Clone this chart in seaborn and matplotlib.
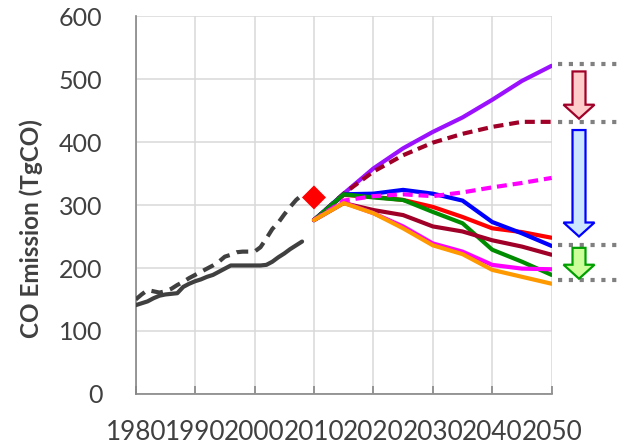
import matplotlib
matplotlib.use("Agg")
import matplotlib.pyplot as plt
import matplotlib.transforms as mtransforms
from matplotlib.patches import FancyArrow
import seaborn as sns

# ---- historical emissions (TgCO), 1980-2008 ----
hist_years = list(range(1980, 2009))
hist_inventory = [141, 144, 147, 152, 156, 158, 159, 160, 170, 175, 179, 182, 186,
                  189, 194, 199, 204, 204, 204, 204, 204, 204, 205, 210, 217, 223,
                  230, 236, 242]
hist_alt = [150, 158, 165, 163, 161, 163, 167, 173, 178, 184, 189, 194, 199, 204,
            210, 218, 221, 225, 226, 226, 226, 233, 247, 262, 272, 285, 297, 308, 316]

# ---- 2010 reference point ----
ref_year = [2010]
ref_value = [312]

# ---- scenario projections, 2010-2050 ----
proj_years = [2010, 2015, 2020, 2025, 2030, 2035, 2040, 2045, 2050]
purple = [276, 318, 358, 390, 416, 439, 467, 497, 521]
darkred_dashed = [276, 318, 353, 379, 399, 413, 424, 432, 432]
magenta_dashed = [276, 307, 314, 317, 314, 320, 328, 335, 343]
red = [276, 316, 313, 308, 297, 281, 263, 257, 248]
blue = [276, 317, 318, 324, 318, 307, 273, 255, 235]
green = [276, 317, 312, 308, 289, 271, 229, 210, 189]
darkred = [276, 303, 292, 284, 266, 258, 244, 234, 221]
magenta = [276, 304, 287, 266, 239, 226, 205, 199, 198]
orange = [276, 303, 287, 263, 236, 222, 197, 186, 175]

# ---- bracket levels and reduction arrows on the right ----
bracket_levels = [524, 432, 237, 181]
arrow_spans = [(512, 437), (419, 250), (232, 183)]
arrow_edges = ["#A00028", "#0000FF", "#00A000"]
arrow_fills = ["#FFCCCC", "#CCE6FF", "#CCFF99"]

x_ticks = [1980, 1990, 2000, 2010, 2020, 2030, 2040, 2050]
y_ticks = [0, 100, 200, 300, 400, 500, 600]

sns.set_theme(style="whitegrid")
plt.rcParams["font.family"] = ["Lato", "DejaVu Sans"]

fig = plt.figure(figsize=(6.17, 4.46), dpi=100)
ax = fig.add_axes([0.2199, 0.1166, 0.6742, 0.8475])
ax.set_facecolor("white")

lw = 3.0
sns.lineplot(x=hist_years, y=hist_alt, ax=ax, color="#404040", linewidth=lw,
             linestyle=(0, (2.8, 1.8)), zorder=3)
sns.lineplot(x=hist_years, y=hist_inventory, ax=ax, color="#404040", linewidth=lw, zorder=3)

series = [
    (purple, "#9A10FF", "-"),
    (darkred_dashed, "#A00028", (0, (2.4, 1.4))),
    (red, "#FF0000", "-"),
    (blue, "#0000FF", "-"),
    (green, "#008C00", "-"),
    (magenta_dashed, "#FF00FF", (0, (2.4, 1.4))),
    (darkred, "#A00028", "-"),
    (magenta, "#FF00FF", "-"),
    (orange, "#FF9900", "-"),
]
for i, (vals, col, ls) in enumerate(series):
    sns.lineplot(x=proj_years, y=vals, ax=ax, color=col, linewidth=lw,
                 linestyle=ls, zorder=4 + i * 0.1)

sns.scatterplot(x=ref_year, y=ref_value, ax=ax, marker="D", s=150, color="#FF0000",
                edgecolor="none", zorder=6)

ax.set_xlim(1980, 2050)
ax.set_ylim(0, 600)
ax.set_xticks(x_ticks)
ax.set_yticks(y_ticks)
ax.set_xticklabels([str(t) for t in x_ticks])

ax.grid(True, color="#D9D9D9", linewidth=1.1)
ax.set_axisbelow(True)
for side in ["top", "right"]:
    ax.spines[side].set_visible(False)
for side in ["left", "bottom"]:
    ax.spines[side].set_visible(True)
    ax.spines[side].set_color("#868686")
    ax.spines[side].set_linewidth(1.2)

ax.tick_params(axis="x", direction="in", length=6, width=1.2, color="#868686",
               pad=19, labelsize=18.8, labelcolor="#404040", bottom=True)
ax.tick_params(axis="y", length=0, pad=24, labelsize=18, labelcolor="#404040")

ax.set_xlabel("")
ax.set_ylabel("CO Emission (TgCO)", fontsize=17.5, fontweight="bold", color="#404040",
              va="center")
ax.yaxis.set_label_coords(-0.25, 0.437)

# dotted brackets and arrows outside the plotting area
bt = mtransforms.blended_transform_factory(fig.transFigure, ax.transData)
for lvl in bracket_levels:
    ax.plot([558 / 617, 1.0], [lvl, lvl], transform=bt, color="#808080", linewidth=3,
            linestyle=(0, (1, 1.6)), solid_capstyle="butt", dash_capstyle="butt",
            clip_on=False, zorder=5)

px_per_unit = 378 / 600
for (top, tip), ec, fc in zip(arrow_spans, arrow_edges, arrow_fills):
    arr = FancyArrow(579 / 617, top, 0, tip - top, width=13 / 617,
                     head_width=31 / 617, head_length=14 / px_per_unit,
                     length_includes_head=True, transform=bt, facecolor=fc,
                     edgecolor=ec, linewidth=1.6, joinstyle="miter", clip_on=False,
                     zorder=6)
    ax.add_artist(arr)

fig.savefig("out.png", dpi=100)
